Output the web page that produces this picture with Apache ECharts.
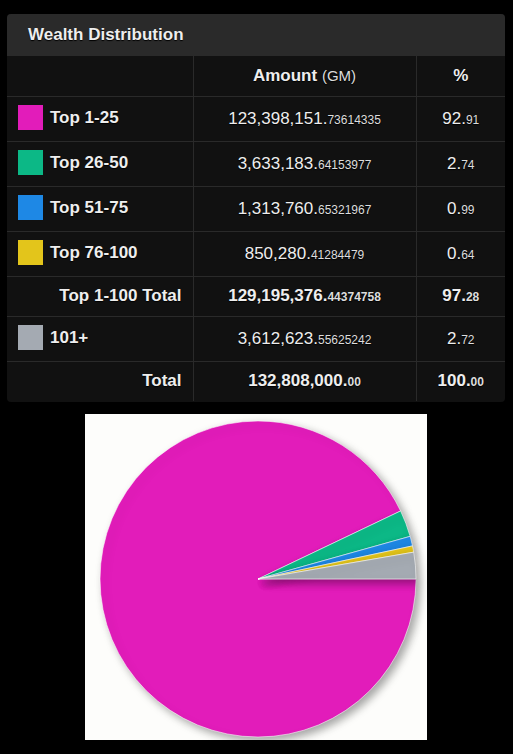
<!DOCTYPE html>
<html><head><meta charset="utf-8">
<script src="https://cdn.jsdelivr.net/npm/echarts@6/dist/echarts.min.js"></script>
<style>
html,body{margin:0;padding:0;background:#000;width:513px;height:754px;overflow:hidden;font-family:"Liberation Sans",Arial,sans-serif;}
#panel{position:absolute;left:7px;top:14px;width:498px;height:388px;background:#111;border-radius:4px;overflow:hidden;}
#head{height:42px;background:#2a2a2a;color:#eee;font-weight:bold;font-size:17px;line-height:42px;padding-left:21px;text-shadow:0 1px 1px #000;}
table{border-collapse:collapse;width:498px;table-layout:fixed;border-style:hidden;}
td{border:1px solid #2a2a2a;color:#eee;font-size:17px;padding:0;text-shadow:0 1px 1px #000;white-space:nowrap;}
td.c{text-align:center;}
td.r{text-align:right;padding-right:11px;}
td.l{padding-left:11px;}
.sw{display:inline-block;width:25px;height:25px;vertical-align:middle;margin-right:7px;position:relative;top:-1px;}
.b{font-weight:bold;}
.dec{font-size:12px;color:#ddd;}
.gm{font-size:15px;font-weight:normal;color:#ddd;}
#chart{position:absolute;left:85px;top:414px;width:342px;height:326px;}
</style></head>
<body>
<div id="panel"><div id="head">Wealth Distribution</div><table id="tbl"></table></div>
<div id="chart"></div>
<script>
const groups = ["Top 1-25","Top 26-50","Top 51-75","Top 76-100"];
const groupAmounts = ["123398151.73614335","3633183.64153977","1313760.65321967","850280.41284479"];
const groupPercents = ["92.91","2.74","0.99","0.64"];
const subtotalLabel = "Top 1-100 Total";
const subtotalAmount = "129195376.44374758";
const subtotalPercent = "97.28";
const restLabel = "101+";
const restAmount = "3612623.55625242";
const restPercent = "2.72";
const totalLabel = "Total";
const totalAmount = "132808000.00";
const totalPercent = "100.00";
const colors = ["#e21cba","#0cb886","#1e88e5","#e3c51b","#a4aab2"];

function fmt(s){
  const [i,d] = s.split(".");
  const ii = i.replace(/\B(?=(\d{3})+(?!\d))/g, ",");
  return ii + '.<span class="dec">' + d + '</span>';
}
function pct(s){
  const [i,d] = s.split(".");
  return i + '.<span class="dec">' + d + '</span>';
}
let html = '<colgroup><col style="width:186px"><col style="width:223px"><col style="width:89px"></colgroup>';
html += '<tr style="height:40px"><td></td><td class="c b">Amount <span class="gm">(GM)</span></td><td class="c b">%</td></tr>';
groups.forEach((g,k)=>{
  html += '<tr style="height:45px"><td class="l b"><span class="sw" style="background:'+colors[k]+'"></span>'+g+'</td><td class="c">'+fmt(groupAmounts[k])+'</td><td class="c">'+pct(groupPercents[k])+'</td></tr>';
});
html += '<tr style="height:40px"><td class="r b">'+subtotalLabel+'</td><td class="c b">'+fmt(subtotalAmount)+'</td><td class="c b">'+pct(subtotalPercent)+'</td></tr>';
html += '<tr style="height:45px"><td class="l b"><span class="sw" style="background:'+colors[4]+'"></span>'+restLabel+'</td><td class="c">'+fmt(restAmount)+'</td><td class="c">'+pct(restPercent)+'</td></tr>';
html += '<tr style="height:40px"><td class="r b">'+totalLabel+'</td><td class="c b">'+fmt(totalAmount)+'</td><td class="c b">'+pct(totalPercent)+'</td></tr>';
document.getElementById('tbl').innerHTML = html;

const pieNames = groups.concat([restLabel]);
const pieValues = groupAmounts.concat([restAmount]).map(parseFloat);
const chart = echarts.init(document.getElementById('chart'));
chart.setOption({
  backgroundColor:'#fdfdfb',
  animation:false,
  series:[{
    type:'pie',
    center:[173,165],
    radius:158,
    startAngle:0,
    clockwise:true,
    label:{show:false},
    labelLine:{show:false},
    emphasis:{disabled:true},
    itemStyle:{borderColor:'rgba(255,255,255,0.55)',borderWidth:1,shadowBlur:8,shadowOffsetX:4,shadowOffsetY:4,shadowColor:'rgba(0,0,0,0.35)'},
    data:pieNames.map((n,k)=>({name:n,value:pieValues[k],itemStyle:{color:colors[k]}}))
  }]
});
</script>
</body></html>
